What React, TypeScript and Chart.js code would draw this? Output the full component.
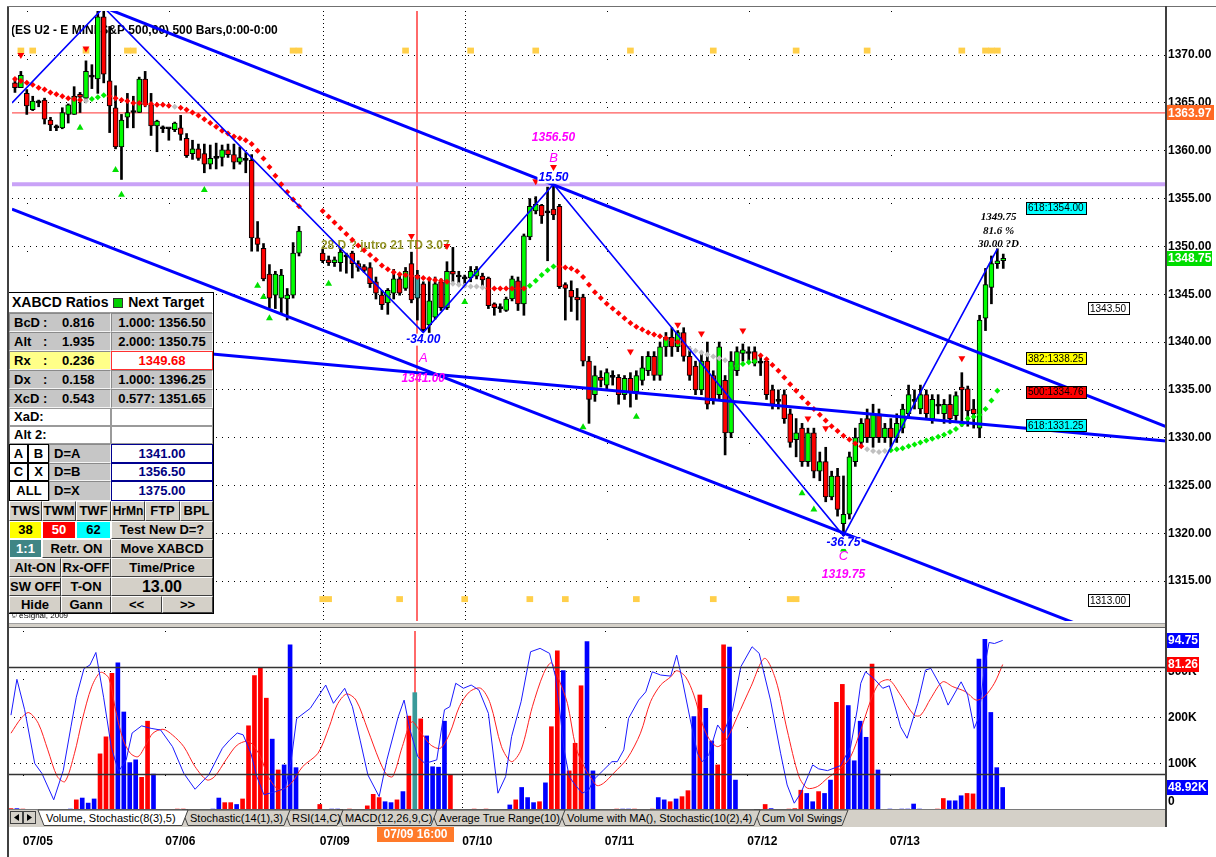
import React, { useEffect, useRef } from 'react';
import { Chart, registerables } from 'chart.js';

Chart.register(...registerables);

const FONT = "'Liberation Sans', Arial, Helvetica, sans-serif";
const SERIF = "'Liberation Serif', 'Times New Roman', serif";

// ---------------- axes ----------------
const X_MIN = -0.5;
const X_MAX = 194.5;
const PRICE_MIN = 1310.836;
const PRICE_MAX = 1374.613;
const priceTicks = [1315, 1320, 1325, 1330, 1335, 1340, 1345, 1350, 1355, 1360, 1365, 1370];
const dateTickIdx = [2, 26, 52, 76, 100, 124, 148];
const dateTickLabels = ['07/05', '07/06', '07/09', '07/10', '07/11', '07/12', '07/13'];
const denseDateLines = [52, 76];
const CURSOR_INDEX = 68;
const CURSOR_LABEL = '07/09 16:00';
const VOL_MAX = 389;
const volTicks = [100, 200, 300];
const TITLE = '(ES U2 - E MINI S&P 500,60) 500 Bars,0:00-0:00';

// ---------------- hourly OHLC (bar index 0..167) ----------------
const opens = [
  1367.1, 1366.6, 1366.0, 1364.3, 1365.0, 1365.3, 1363.2, 1362.4, 1362.4, 1363.8,
  1363.8, 1365.9, 1365.5, 1367.9, 1367.5, 1374.0, 1367.3, 1364.5, 1360.4, 1363.5,
  1364.0, 1364.0, 1367.5, 1364.8, 1362.6, 1362.5, 1362.3, 1362.2, 1362.4, 1361.3,
  1359.7, 1360.2, 1359.7, 1358.6, 1359.2, 1359.3, 1360.1, 1359.6, 1358.8, 1359.0,
  1359.0, 1350.9, 1349.8, 1347.1, 1344.9, 1344.6, 1344.5, 1344.9, 1349.3, null,
  null, null, 1349.3, 1348.6, 1348.3, 1348.3, 1348.9, 1349.3, 1348.2, 1347.9,
  1347.8, 1346.3, 1344.9, 1344.1, 1345.1, 1346.6, 1345.6, 1348.2, 1347.0, 1346.1,
  1341.8, 1342.6, 1346.3, 1343.6, 1347.4, 1347.0, 1346.8, 1346.7, 1346.9, 1346.9,
  1346.7, 1344.0, 1343.6, 1343.3, 1344.5, 1346.4, 1344.0, 1351.0, 1353.7, 1354.3,
  1353.5, 1353.9, 1354.2, 1346.0, 1345.4, 1344.7, 1344.7, 1338.0, 1334.5, 1336.3,
  1335.5, 1336.5, 1336.3, 1334.5, 1336.2, 1334.8, 1336.0, 1337.0, 1338.5, 1336.5,
  1339.5, 1340.5, 1339.5, 1341.0, 1338.5, 1337.5, 1335.0, 1338.0, 1336.5, 1334.5,
  1336.0, 1330.5, 1337.0, 1338.8, 1339.0, 1339.0, 1337.8, 1338.0, 1335.0, 1334.0,
  1334.5, 1332.5, 1329.8, 1331.0, 1327.5, 1330.5, 1326.5, 1327.5, 1323.8, 1326.0,
  1321.0, 1322.0, 1327.5, 1329.5, 1332.0, 1330.0, 1332.5, 1330.0, 1331.0, 1330.0,
  1331.0, 1332.5, 1334.0, 1333.0, 1334.5, 1332.0, 1333.5, 1332.5, 1333.5, 1332.3,
  1335.3, 1335.1, 1333.0, 1331.0, 1342.5, 1345.7, 1348.2, 1348.5,
];
const highs = [
  1367.6, 1368.3, 1366.4, 1365.7, 1365.3, 1365.5, 1363.5, 1362.7, 1364.5, 1364.9,
  1366.7, 1366.1, 1369.4, 1369.0, 1374.6, 1374.6, 1373.0, 1366.8, 1363.8, 1366.0,
  1365.7, 1367.7, 1368.3, 1366.0, 1363.2, 1362.6, 1362.4, 1363.0, 1363.7, 1361.8,
  1361.1, 1360.7, 1360.7, 1360.6, 1360.8, 1360.6, 1360.7, 1360.7, 1360.4, 1359.8,
  1359.6, 1352.6, 1350.3, 1348.1, 1347.4, 1347.6, 1345.6, 1350.4, 1352.1, null,
  null, null, 1349.7, 1349.0, 1348.9, 1349.7, 1349.3, 1349.5, 1348.5, 1348.1,
  1348.3, 1346.8, 1345.4, 1345.6, 1347.6, 1347.1, 1347.8, 1349.4, 1347.5, 1346.3,
  1346.7, 1346.8, 1346.6, 1348.4, 1349.9, 1347.4, 1347.0, 1347.9, 1347.9, 1347.2,
  1346.8, 1344.1, 1344.0, 1344.7, 1346.9, 1346.8, 1351.3, 1355.0, 1355.2, 1354.4,
  1356.2, 1356.5, 1354.4, 1346.2, 1346.4, 1345.6, 1345.0, 1338.5, 1337.5, 1337.0,
  1337.2, 1337.0, 1336.6, 1336.5, 1336.8, 1337.0, 1338.5, 1339.0, 1339.0, 1340.0,
  1341.0, 1341.5, 1341.2, 1341.5, 1339.5, 1338.0, 1338.8, 1340.0, 1337.0, 1340.0,
  1336.5, 1339.0, 1339.5, 1339.8, 1339.5, 1339.5, 1338.5, 1338.3, 1335.5, 1335.0,
  1335.0, 1333.0, 1332.0, 1331.5, 1331.0, 1331.0, 1328.5, 1329.0, 1326.5, 1326.8,
  1326.0, 1328.5, 1331.0, 1332.0, 1333.0, 1333.5, 1333.0, 1331.5, 1332.0, 1332.5,
  1333.5, 1335.5, 1335.0, 1335.5, 1335.0, 1334.5, 1334.5, 1334.0, 1334.5, 1334.8,
  1336.8, 1335.4, 1334.0, 1342.8, 1347.7, 1349.0, 1349.75, 1349.2,
];
const lows = [
  1366.1, 1366.6, 1363.8, 1364.2, 1364.6, 1362.8, 1362.1, 1362.1, 1362.3, 1362.9,
  1363.8, 1364.0, 1365.2, 1366.5, 1366.0, 1367.1, 1361.9, 1360.2, 1357.0, 1362.4,
  1362.4, 1364.0, 1364.6, 1361.6, 1359.9, 1361.9, 1361.1, 1362.0, 1361.1, 1359.3,
  1359.1, 1359.0, 1357.7, 1358.1, 1358.1, 1358.4, 1359.3, 1358.1, 1358.6, 1357.7,
  1349.5, 1349.5, 1346.4, 1343.6, 1343.5, 1343.0, 1342.3, 1344.6, 1349.0, null,
  null, null, 1348.3, 1348.0, 1347.9, 1347.4, 1347.2, 1346.7, 1347.4, 1347.3,
  1345.7, 1344.5, 1343.4, 1342.9, 1344.5, 1344.9, 1345.4, 1344.1, 1342.3, 1341.1,
  1341.0, 1342.4, 1343.3, 1343.4, 1346.3, 1346.1, 1345.7, 1346.3, 1346.6, 1345.7,
  1343.5, 1342.8, 1343.1, 1343.2, 1344.3, 1343.3, 1342.8, 1350.7, 1353.4, 1352.4,
  1348.5, 1352.8, 1345.6, 1342.3, 1343.2, 1342.3, 1337.5, 1331.5, 1333.8, 1335.3,
  1335.0, 1335.5, 1333.5, 1334.0, 1333.2, 1334.0, 1335.5, 1336.5, 1336.0, 1336.0,
  1338.5, 1338.5, 1339.0, 1338.0, 1336.0, 1334.5, 1334.5, 1333.0, 1333.5, 1334.0,
  1328.2, 1330.0, 1336.5, 1338.0, 1338.0, 1337.5, 1336.5, 1334.0, 1333.0, 1333.0,
  1331.5, 1329.0, 1328.0, 1327.0, 1327.0, 1325.8, 1325.5, 1323.3, 1323.5, 1321.8,
  1319.75, 1321.5, 1327.0, 1329.0, 1329.5, 1329.0, 1329.5, 1329.5, 1329.0, 1329.5,
  1330.5, 1332.0, 1333.0, 1332.5, 1332.0, 1331.5, 1332.5, 1331.5, 1331.5, 1331.8,
  1331.2, 1331.2, 1331.0, 1330.0, 1341.2, 1344.0, 1347.7, 1347.7,
];
const closes = [
  1366.6, 1367.9, 1364.7, 1365.2, 1365.0, 1363.3, 1362.7, 1362.4, 1364.0, 1364.8,
  1365.7, 1365.6, 1368.3, 1367.7, 1374.0, 1368.0, 1364.7, 1360.4, 1363.2, 1364.0,
  1364.2, 1367.5, 1364.8, 1362.6, 1363.1, 1362.3, 1362.3, 1362.9, 1361.7, 1359.5,
  1360.2, 1359.2, 1358.6, 1359.2, 1359.3, 1360.1, 1359.6, 1358.8, 1359.3, 1359.0,
  1350.9, 1350.2, 1346.6, 1344.6, 1347.1, 1347.0, 1344.9, 1349.3, 1351.6, null,
  null, null, 1348.5, 1348.3, 1348.6, 1349.4, 1349.0, 1348.2, 1347.8, 1347.5,
  1346.1, 1345.1, 1343.9, 1345.4, 1346.6, 1345.1, 1347.4, 1344.4, 1344.6, 1341.3,
  1344.3, 1346.1, 1343.6, 1347.4, 1347.1, 1346.8, 1346.6, 1347.4, 1347.6, 1346.5,
  1343.8, 1343.6, 1343.5, 1344.5, 1346.6, 1344.0, 1351.1, 1354.2, 1354.4, 1353.2,
  1353.7, 1353.3, 1345.8, 1345.6, 1344.7, 1344.4, 1338.0, 1334.0, 1336.5, 1336.0,
  1336.8, 1336.3, 1334.5, 1336.2, 1334.8, 1336.5, 1337.3, 1338.5, 1336.5, 1339.5,
  1340.5, 1339.5, 1341.0, 1338.5, 1336.5, 1335.0, 1338.0, 1333.5, 1334.0, 1339.5,
  1330.5, 1338.0, 1339.0, 1339.2, 1338.8, 1337.8, 1337.8, 1334.5, 1333.5, 1333.8,
  1332.0, 1329.5, 1330.5, 1327.5, 1330.5, 1326.5, 1327.5, 1323.8, 1326.0, 1322.5,
  1322.0, 1328.0, 1330.0, 1331.5, 1330.0, 1332.5, 1330.0, 1331.0, 1330.0, 1331.5,
  1333.0, 1334.5, 1333.8, 1334.5, 1332.5, 1334.0, 1333.3, 1333.5, 1332.0, 1334.4,
  1335.0, 1332.8, 1332.5, 1342.3, 1346.0, 1348.2, 1348.5, 1348.75,
];

// ---------------- trailing stop diamonds ----------------
const stopValues = [
  1367.5, 1367.3, 1367.1, 1366.9, 1366.6, 1366.4, 1366.1, 1365.9, 1365.7, 1365.5,
  1365.4, 1365.3, 1365.2, 1365.4, 1365.6, 1365.8, 1365.7, 1365.5, 1365.3, 1365.2,
  1365.0, 1365.0, 1364.9, 1364.9, 1364.8, 1364.8, 1364.7, 1364.6, 1364.5, 1364.3,
  1364.0, 1363.7, 1363.3, 1362.9, 1362.5, 1362.1, 1361.8, 1361.5, 1361.3, 1361.1,
  1360.7, 1360.0, 1359.2, 1358.3, 1357.4, 1356.5, 1355.7, 1354.9, 1354.2, null,
  null, null, 1353.7, 1353.1, 1352.5, 1351.9, 1351.3, 1350.7, 1350.1, 1349.6,
  1349.1, 1348.6, 1348.0, 1347.6, 1347.3, 1347.1, 1347.0, 1346.9, 1346.8, 1346.7,
  1346.6, 1346.5, 1346.4, 1346.3, 1346.1, 1346.0, 1345.9, 1345.8, 1345.8, 1345.7,
  1345.6, 1345.6, 1345.6, 1345.6, 1345.6, 1345.6, 1345.6, 1345.9, 1346.4, 1347.0,
  1347.5, 1347.9, 1347.9, 1347.8, 1347.7, 1347.4, 1346.8, 1346.0, 1345.2, 1344.6,
  1344.0, 1343.5, 1343.0, 1342.5, 1342.0, 1341.6, 1341.3, 1341.0, 1340.8, 1340.6,
  1340.4, 1340.2, 1340.0, 1339.8, 1339.3, 1339.1, 1338.9, 1338.7, 1338.5, 1338.3,
  1338.1, 1337.3, 1337.5, 1337.7, 1337.9, 1338.0, 1338.6, 1338.2, 1337.6, 1337.0,
  1336.3, 1335.6, 1334.9, 1334.2, 1333.6, 1333.0, 1332.4, 1331.8, 1331.2, 1330.7,
  1330.2, 1329.8, 1329.4, 1329.1, 1328.8, 1328.6, 1328.5, 1328.6, 1328.7, 1328.8,
  1328.9, 1329.1, 1329.3, 1329.5, 1329.7, 1329.9, 1330.1, 1330.3, 1330.6, 1330.9,
  1331.4, 1332.0, 1332.2, 1332.4, 1333.0, 1333.9, 1334.9, null,
];
const stopTypes =
  'rrrrrrrrrr' + 'rrngggrrrr' + 'rrrrrrrnrr' + 'rrrrrrrrrr' + 'rrrrrrrrr-' +
  '--rrrrrrrr' + 'rrrrrrrrrr' + 'rrrrnnnnnn' + 'rrrrrrrggg' + 'ggrrrrrrrr' +
  'rrrrrrrrrr' + 'rrrrnnnnnn' + 'ngggggrrrr' + 'rrrrrrrrrr' + 'rrrrnnnngg' +
  'gggggggggg' + 'ggggggg-';

// ---------------- signal triangles ----------------
const upTriIdx = [11, 17, 18, 32, 41, 42, 43, 53, 76, 96, 105, 133, 135, 140];
const upTriPrice = [1362.4, 1358.0, 1355.4, 1355.9, 1345.9, 1344.7, 1342.5, 1346.1, 1344.2, 1331.1, 1332.2, 1324.2, 1322.5, 1318.3];
const downTriIdx = [1, 12, 67, 73, 88, 91, 104, 112, 116, 123, 134, 137, 160];
const downTriPrice = [1370.0, 1370.7, 1351.1, 1350.05, 1356.8, 1358.3, 1339.0, 1341.8, 1340.9, 1341.2, 1332.0, 1331.0, 1338.3];

// ---------------- session markers ----------------
const topMarkerIdx = [1, 3, 12, 19, 20, 47, 48, 66, 77, 88, 104, 118, 132, 144, 160, 164, 165, 166];
const bottomMarkerIdx = [52, 53, 65, 76, 87, 93, 105, 118, 131, 132];
const TOP_MARKER_RANGE = [1370.2, 1370.75];
const BOTTOM_MARKER_RANGE = [1312.85, 1313.4];

// ---------------- XABCD pattern and channels ----------------
const zigzag = [[-0.5, 1365.0], [15, 1375.0], [69, 1341.0], [91, 1356.5], [140, 1319.75], [166, 1349.75]];
const channelUpper = [[15, 1375.0], [194.5, 1331.15]];
const channelLower = [[-0.5, 1353.9], [194.5, 1306.9]];
const channelMid = [[-0.5, 1340.66], [194.5, 1329.65]];
const LEVEL_RED = 1363.97;
const LEVEL_B = 1356.5;

const pivotLabels = [
  { idx: 91, price: 1361.4, text: '1356.50', kind: 'price' },
  { idx: 91, price: 1359.2, text: 'B', kind: 'letter' },
  { idx: 91, price: 1357.2, text: '15.50', kind: 'diff' },
  { idx: 69, price: 1340.25, text: '-34.00', kind: 'diff' },
  { idx: 69, price: 1338.3, text: 'A', kind: 'letter' },
  { idx: 69, price: 1336.2, text: '1341.00', kind: 'price' },
  { idx: 140, price: 1319.0, text: '-36.75', kind: 'diff' },
  { idx: 140, price: 1317.6, text: 'C', kind: 'letter' },
  { idx: 140, price: 1315.7, text: '1319.75', kind: 'price' },
];
const dLabelIdx = 166.2;
const dLabelTexts = ['1349.75', '81.6 %', '30.00 ?D'];
const dLabelPrices = [1353.05, 1351.6, 1350.25];
const studyText = '28 D ? jutro 21 TD 3.07';
const studyTextAt = [51.7, 1350.1];

const fibRatios = ['618', '382', '500', '618'];
const fibLevels = [1354.0, 1338.25, 1334.76, 1331.25];
const fibColors = ['#00ffff', '#ffff00', '#ff0000', '#00ffff'];
const FIB_BOX_IDX = 170.8;
const sideLevels = [1343.5, 1313.0];
const SIDE_BOX_IDX = 181.4;

// ---------------- lower pane: volume (K) + stochastic ----------------
const volumes = [
  3, 3, 2, 0, 0, 0, 1, 0, 0, 1,
  2, 22, 26, 15, 24, 122, 159, 297, 320, 213,
  103, 109, 71, 193, 78, 0, 0, 0, 2, 2,
  0, 0, 0, 0, 2, 26, 16, 16, 12, 24,
  183, 292, 309, 243, 154, 87, 98, 359, 92, 0,
  0, 0, 12, 0, 2, 2, 0, 2, 0, 0,
  9, 34, 27, 18, 16, 22, 40, 204, 255, 198,
  161, 94, 93, 193, 77, 0, 0, 0, 2, 0,
  2, 0, 0, 0, 11, 22, 49, 27, 16, 18,
  59, 181, 346, 303, 85, 145, 270, 366, 85, 0,
  0, 0, 2, 2, 2, 2, 0, 0, 2, 27,
  22, 18, 24, 29, 42, 203, 250, 221, 150, 98,
  359, 354, 65, 0, 0, 0, 0, 12, 3, 0,
  0, 2, 3, 43, 36, 18, 40, 36, 65, 234,
  273, 227, 107, 193, 158, 317, 87, 0, 2, 0,
  2, 2, 13, 2, 0, 0, 2, 25, 20, 20,
  31, 36, 35, 328, 371, 212, 92, 48.92,
];
const volumeColors =
  'rbr---r--b' + 'brbbbrrrbb' + 'bbrrb---rr' + '----bbrrbr' + 'rrrrbrbbb-' +
  '--r-bb-r--' + 'rrrbbrbrtr' + 'bbbbr---r-' + 'r---brbbbr' + 'brrbrrrbb-' +
  '--rbbr--rb' + 'brbrrbrbbr' + 'rbb----rb-' + '-rrrbbrbbr' + 'rbbbbrb-b-' +
  'bbbb--rrbb' + 'brrbbbbb';

const stochK = [
  [0, 53], [1, 73], [2.3, 56], [4, 26], [5.2, 20.5], [7.2, 5.7], [8.8, 22], [10.1, 46.5], [11, 63], [12.3, 79],
  [13.3, 81], [14.3, 88], [15.6, 63], [16.9, 35], [18.1, 21.5], [19.4, 28], [20.4, 43], [22, 47], [23.6, 45.6], [25.2, 44.7],
  [27.2, 35.4], [29.1, 20.5], [31, 11.6], [33.3, 19.6], [35.6, 34.5], [36.8, 39], [38.1, 43], [39.1, 42], [40.4, 31.7], [41.4, 18.7],
  [42.6, 8.5], [44.6, 10.3], [46.2, 12.2], [47.2, 28], [48.1, 51], [50.4, 56.8], [53, 69.8], [54.3, 59.6], [56.2, 68], [57.5, 57.7],
  [58.8, 39], [60.1, 19.6], [62, 7.5], [63.3, 28], [65.2, 52], [66.2, 61.4], [67.2, 44.7], [68.5, 29.8], [69.7, 26], [71.7, 28],
  [73, 56], [73.9, 57.7], [74.9, 70.8], [76.2, 68], [77.5, 69.8], [78.8, 67], [80.4, 54], [82, 9.4], [83.3, 18.7], [84.3, 41],
  [85.9, 60.5], [87.5, 88.4], [89.1, 90.3], [90.7, 87.5], [91.7, 74.4], [92.6, 50.3], [93.1, 34.5], [94, 18.7], [95, 14], [96.2, 9.4],
  [97.3, 11.2], [98.1, 16.8], [99.8, 22.4], [101.2, 27], [102.1, 27], [103.2, 33.6], [104, 51.2], [105.7, 61.4], [106.9, 66], [108, 77.2],
  [109.4, 75.4], [111.1, 74.8], [112.1, 86.5], [113, 73.5], [114.4, 50.3], [115.6, 31.7], [116.4, 27], [117.5, 30.8], [119, 47.5], [120, 42.9],
  [121.5, 55.9], [122.9, 80], [124.8, 91.2], [126, 87.5], [127.9, 61.4], [129.6, 31.7], [130.7, 14], [131.9, 3.8], [133, 9.4], [135, 25.2],
  [136, 23], [137.5, 22], [139.7, 24.8], [141.4, 35.4], [142.5, 55.9], [143.1, 70.8], [143.9, 77.2], [145.3, 73.5], [146.8, 68], [147.9, 69.4],
  [149.8, 46.5], [150.9, 40.1], [152.7, 59.6], [154, 78.2], [154.9, 79.1], [156.6, 68.9], [157.8, 58.6], [160, 71.6], [161.1, 64.2], [162.2, 45.6],
  [163, 52.1], [163.9, 79.1], [164.7, 93.6], [165.6, 93], [167, 94.75],
];
const stochD = [
  [0, 42.9], [1.7, 51.2], [3, 54.4], [4.6, 48.4], [6.2, 33.6], [7.8, 18.7], [9.1, 15.9], [10.7, 31.7], [12, 50.3], [13.6, 68.9],
  [15.1, 76.9], [16.5, 73.5], [17.5, 57.7], [18.8, 40.1], [20.1, 31.7], [21.4, 29.8], [22.7, 36.3], [23.9, 42.9], [25.6, 45.1], [27.2, 41.9],
  [29.1, 35.4], [31, 24.2], [33, 16.8], [34.3, 18.7], [36.2, 28], [38.1, 36.3], [40.1, 38.2], [42, 29.8], [43.3, 18.7], [45.2, 11.2],
  [47.2, 15], [49.1, 24.2], [51.7, 31.7], [53.6, 46.5], [54.9, 58.6], [56.5, 64.8], [58.1, 61.4], [60.1, 44.7], [62, 28], [63.3, 19.6],
  [64.3, 18.7], [65.9, 35.4], [67.5, 49.3], [69.1, 42.9], [70.7, 36.3], [72.3, 34.5], [73.9, 42.9], [75.5, 57.7], [77.2, 66], [79.1, 68],
  [80.7, 59.6], [82.6, 35.4], [84.3, 27], [85.9, 33.6], [87.8, 57.7], [89.7, 76.3], [91, 82.2], [92.3, 72.6], [93.7, 59.6], [95.1, 35.4],
  [96.5, 24.2], [97.9, 16.8], [98.7, 13.6], [99.8, 15], [101.5, 20.6], [103.8, 28.9], [106, 42.9], [107.7, 60.5], [109.4, 69.8], [111.1, 74.4],
  [112.1, 77.8], [113.6, 74.4], [115, 64.2], [116.4, 48.4], [117.5, 40.1], [119, 35.4], [120.6, 40.1], [122.3, 52.1], [124.6, 68.9], [126.9, 84.7],
  [128.8, 72.6], [130.7, 44.7], [132.7, 18.7], [134.1, 12.2], [135.8, 13.1], [137.5, 17.8], [139.7, 23.3], [141.4, 29.8], [143.1, 44.7], [144.8, 61.4],
  [146.2, 70.8], [147.9, 72.6], [149.8, 64.2], [152.1, 53], [153.2, 53], [154.9, 62.4], [156.9, 71.6], [158.6, 68.9], [160.8, 66], [162.5, 61.4],
  [163.9, 63.3], [165.6, 70.8], [167, 81.26],
];
const STOCH_HI = 80;
const STOCH_LO = 20;

// ---------------- helpers ----------------
const COLORS: any = { r: '#ff0000', g: '#00ee00', n: '#c0c0c0', b: '#0000ff', t: '#3a9a9a' };

function pts(list: number[][]) {
  return list.map((p) => ({ x: p[0], y: p[1] }));
}

function boxText(ctx: any, text: string, x: number, yc: number, w: number, h: number, bg: string, fg: string, font: string, border?: string, align?: string) {
  ctx.save();
  ctx.fillStyle = bg;
  ctx.fillRect(x, Math.round(yc - h / 2), w, h);
  if (border) {
    ctx.strokeStyle = border;
    ctx.lineWidth = 1;
    ctx.strokeRect(x + 0.5, Math.round(yc - h / 2) + 0.5, w - 1, h - 1);
  }
  ctx.fillStyle = fg;
  ctx.font = font;
  ctx.textBaseline = 'middle';
  if (align === 'center') {
    ctx.textAlign = 'center';
    ctx.fillText(text, x + w / 2, yc + 0.5);
  } else {
    ctx.textAlign = 'left';
    ctx.fillText(text, x + 2, yc + 0.5);
  }
  ctx.restore();
}

function vLines(chart: any) {
  const { ctx, chartArea: a } = chart;
  const x = chart.scales.x;
  ctx.save();
  ctx.strokeStyle = '#000';
  ctx.lineWidth = 1;
  dateTickIdx.forEach((v) => {
    const px = Math.round(x.getPixelForValue(v)) + 0.5;
    ctx.setLineDash(denseDateLines.includes(v) ? [1, 3] : [1, 47]);
    ctx.beginPath();
    ctx.moveTo(px, a.top);
    ctx.lineTo(px, a.bottom);
    ctx.stroke();
  });
  ctx.setLineDash([]);
  const cx = Math.round(x.getPixelForValue(CURSOR_INDEX));
  ctx.fillStyle = '#ff6a6a';
  ctx.fillRect(cx - 1, a.top, 2, a.bottom - a.top);
  ctx.restore();
}

const priceDeco = {
  id: 'priceDeco',
  beforeDatasetsDraw(chart: any) {
    const { ctx, chartArea: a } = chart;
    const x = chart.scales.x;
    const y = chart.scales.y;
    vLines(chart);
    ctx.save();
    ctx.beginPath();
    ctx.rect(a.left, a.top, a.right - a.left, a.bottom - a.top);
    ctx.clip();
    ctx.strokeStyle = '#ff5a5a';
    ctx.lineWidth = 1.2;
    let yy = y.getPixelForValue(LEVEL_RED);
    ctx.beginPath(); ctx.moveTo(a.left, yy); ctx.lineTo(a.right, yy); ctx.stroke();
    ctx.strokeStyle = '#c9a2f7';
    ctx.lineWidth = 4;
    yy = y.getPixelForValue(LEVEL_B);
    ctx.beginPath(); ctx.moveTo(a.left, yy); ctx.lineTo(a.right, yy); ctx.stroke();
    ctx.fillStyle = '#000';
    ctx.font = `bold 12px ${FONT}`;
    ctx.textBaseline = 'middle';
    ctx.textAlign = 'left';
    ctx.fillText(TITLE, 3, 24);
    ctx.fillStyle = 'rgba(128,128,0,0.85)';
    ctx.fillText(studyText, x.getPixelForValue(studyTextAt[0]), y.getPixelForValue(studyTextAt[1]));
    ctx.restore();
  },
  afterDatasetsDraw(chart: any) {
    const { ctx, chartArea: a } = chart;
    const x = chart.scales.x;
    const y = chart.scales.y;
    ctx.save();
    ctx.beginPath();
    ctx.rect(a.left, a.top, a.right - a.left, a.bottom - a.top);
    ctx.clip();
    ctx.textAlign = 'center';
    ctx.textBaseline = 'middle';
    pivotLabels.forEach((l) => {
      const px = x.getPixelForValue(l.idx);
      const py = y.getPixelForValue(l.price);
      if (l.kind === 'price') {
        ctx.font = `italic bold 12px ${FONT}`;
        ctx.fillStyle = '#ff00ff';
      } else if (l.kind === 'letter') {
        ctx.font = `italic 13px ${FONT}`;
        ctx.fillStyle = '#ff00ff';
      } else {
        ctx.font = `italic bold 12px ${FONT}`;
        const w = ctx.measureText(l.text).width;
        ctx.fillStyle = '#fff';
        ctx.fillRect(px - w / 2 - 1, py - 6, w + 2, 12);
        ctx.fillStyle = '#0000ff';
      }
      ctx.fillText(l.text, px, py);
    });
    ctx.font = `italic bold 11px ${SERIF}`;
    ctx.fillStyle = '#000';
    dLabelTexts.forEach((t, i) => {
      ctx.fillText(t, x.getPixelForValue(dLabelIdx), y.getPixelForValue(dLabelPrices[i]));
    });
    const f10 = `10px ${FONT}`;
    fibLevels.forEach((lv, i) => {
      boxText(ctx, `${fibRatios[i]}:${lv.toFixed(2)}`, Math.round(x.getPixelForValue(FIB_BOX_IDX)), y.getPixelForValue(lv), 61, 13, fibColors[i], '#000', f10, '#000');
    });
    sideLevels.forEach((lv) => {
      boxText(ctx, lv.toFixed(2), Math.round(x.getPixelForValue(SIDE_BOX_IDX)), y.getPixelForValue(lv), 42, 13, '#fff', '#000', f10, '#000');
    });
    ctx.font = `8px ${FONT}`;
    ctx.fillStyle = '#000';
    ctx.textAlign = 'left';
    ctx.fillText('\u00a9 eSignal, 2009', 3, a.bottom - 5);
    ctx.restore();
  },
  afterDraw(chart: any) {
    const { ctx, chartArea: a } = chart;
    const y = chart.scales.y;
    const f = `bold 12px ${FONT}`;
    boxText(ctx, LEVEL_RED.toFixed(2), a.right, y.getPixelForValue(LEVEL_RED), 48, 15, '#ff6a24', '#fff', f);
    const last = closes[closes.length - 1] as number;
    boxText(ctx, last.toFixed(2), a.right, y.getPixelForValue(last), 46, 15, '#00dd00', '#fff', f);
  },
};

const lowerDeco = {
  id: 'lowerDeco',
  beforeDatasetsDraw(chart: any) {
    vLines(chart);
  },
  afterDatasetsDraw(chart: any) {
    const { ctx, chartArea: a } = chart;
    const s = chart.scales.yS;
    ctx.save();
    ctx.strokeStyle = '#333';
    ctx.lineWidth = 1.5;
    [STOCH_HI, STOCH_LO].forEach((v) => {
      const yy = Math.round(s.getPixelForValue(v)) + 0.5;
      ctx.beginPath(); ctx.moveTo(a.left, yy); ctx.lineTo(a.right, yy); ctx.stroke();
    });
    ctx.restore();
  },
  afterDraw(chart: any) {
    const { ctx, chartArea: a } = chart;
    const s = chart.scales.yS;
    const v = chart.scales.yVol;
    const x = chart.scales.x;
    const f = `bold 12px ${FONT}`;
    const lastK = stochK[stochK.length - 1][1];
    const lastD = stochD[stochD.length - 1][1];
    const lastV = volumes[volumes.length - 1];
    boxText(ctx, lastK.toFixed(2), a.right, s.getPixelForValue(lastK), 33, 15, '#0000ff', '#fff', f);
    boxText(ctx, lastD.toFixed(2), a.right, s.getPixelForValue(lastD), 33, 15, '#ff0000', '#fff', f);
    boxText(ctx, `${lastV.toFixed(2)}K`, a.right, v.getPixelForValue(lastV), 42, 15, '#0000ff', '#fff', f);
    ctx.save();
    ctx.font = f;
    ctx.fillStyle = '#000';
    ctx.textBaseline = 'middle';
    ctx.textAlign = 'left';
    ctx.fillText('0', a.right + 2, a.bottom - 8);
    ctx.restore();
    const cx = x.getPixelForValue(CURSOR_INDEX);
    boxText(ctx, CURSOR_LABEL, Math.round(cx - 38), 206, 77, 16, '#ff7a2a', '#fff', f, undefined, 'center');
  },
};

function buildPriceConfig(): any {
  const wick: any[] = [];
  const body: any[] = [];
  const bodyColors: string[] = [];
  for (let i = 0; i < opens.length; i++) {
    const o = opens[i];
    const c = closes[i];
    if (o == null || c == null) continue;
    wick.push({ x: i, y: [lows[i], highs[i]] });
    body.push({ x: i, y: [o, c] });
    bodyColors.push(i === CURSOR_INDEX ? COLORS.t : Math.abs(c - o) < 0.25 ? '#000000' : c > o ? '#00ff00' : '#ff0000');
  }
  const stopPts: any[] = [];
  const stopCols: string[] = [];
  stopValues.forEach((v, i) => {
    if (v == null) return;
    stopPts.push({ x: i, y: v });
    stopCols.push(COLORS[stopTypes[i]]);
  });
  const markers = [
    ...topMarkerIdx.map((i) => ({ x: i, y: TOP_MARKER_RANGE })),
    ...bottomMarkerIdx.map((i) => ({ x: i, y: BOTTOM_MARKER_RANGE })),
  ];
  const line = (data: any, width: number) => ({
    type: 'line', data, borderColor: '#0000ff', borderWidth: width, pointRadius: 0, fill: false, tension: 0, order: 0,
  });
  return {
    type: 'bar',
    data: {
      datasets: [
        { type: 'bar', data: markers, backgroundColor: '#ffcf4a', barThickness: 6, grouped: false, order: 6 },
        { type: 'bar', data: wick, backgroundColor: '#000', barThickness: 2, grouped: false, order: 5 },
        { type: 'bar', data: body, backgroundColor: bodyColors, borderColor: '#000', borderWidth: 1, borderSkipped: false, barThickness: 5, minBarLength: 2, grouped: false, order: 4 },
        { type: 'scatter', data: stopPts, pointStyle: 'rectRot', pointRadius: 3, pointBackgroundColor: stopCols, pointBorderWidth: 0, order: 3 },
        line(pts(channelUpper), 3),
        line(pts(channelLower), 3),
        line(pts(channelMid), 3),
        line(pts(zigzag), 1.6),
        { type: 'scatter', data: upTriIdx.map((v, i) => ({ x: v, y: upTriPrice[i] })), pointStyle: 'triangle', pointRadius: 4, pointBackgroundColor: '#00e000', pointBorderWidth: 0, order: 0 },
        { type: 'scatter', data: downTriIdx.map((v, i) => ({ x: v, y: downTriPrice[i] })), pointStyle: 'triangle', rotation: 180, pointRadius: 4, pointBackgroundColor: '#ff0000', pointBorderWidth: 0, order: 0 },
      ],
    },
    options: {
      animation: false,
      responsive: false,
      maintainAspectRatio: false,
      events: [],
      layout: { padding: 0 },
      plugins: { legend: { display: false }, tooltip: { enabled: false } },
      scales: {
        x: { type: 'linear', min: X_MIN, max: X_MAX, offset: false, display: false, grid: { offset: false } },
        y: {
          type: 'linear',
          position: 'right',
          min: PRICE_MIN,
          max: PRICE_MAX,
          afterBuildTicks: (s: any) => { s.ticks = priceTicks.map((v) => ({ value: v })); },
          afterFit: (s: any) => { s.width = 50; s.paddingTop = 0; s.paddingBottom = 0; },
          ticks: { color: '#000', font: { family: FONT, size: 12, weight: 'bold' }, padding: 2, autoSkip: false, callback: (v: any) => Number(v).toFixed(2) },
          grid: { color: '#000', drawTicks: false, lineWidth: 1 },
          border: { display: false, dash: [1, 5] },
        },
      },
    },
    plugins: [priceDeco],
  };
}

function buildLowerConfig(): any {
  const vol: any[] = [];
  const volCols: string[] = [];
  volumes.forEach((v, i) => {
    if (!v) return;
    vol.push({ x: i, y: v });
    volCols.push(COLORS[volumeColors[i]] || '#0000ff');
  });
  return {
    type: 'bar',
    data: {
      datasets: [
        { type: 'bar', data: vol, yAxisID: 'yVol', backgroundColor: volCols, barThickness: 4, grouped: false, order: 3 },
        { type: 'line', data: pts(stochD), yAxisID: 'yS', borderColor: '#ff2020', borderWidth: 1, pointRadius: 0, tension: 0.3, order: 1 },
        { type: 'line', data: pts(stochK), yAxisID: 'yS', borderColor: '#1a1aff', borderWidth: 1, pointRadius: 0, tension: 0, order: 0 },
      ],
    },
    options: {
      animation: false,
      responsive: false,
      maintainAspectRatio: false,
      events: [],
      layout: { padding: { top: 3, left: 0, right: 0, bottom: 0 } },
      plugins: { legend: { display: false }, tooltip: { enabled: false } },
      scales: {
        x: {
          type: 'linear', min: X_MIN, max: X_MAX, offset: false,
          afterBuildTicks: (s: any) => { s.ticks = dateTickIdx.map((v) => ({ value: v })); },
          afterFit: (s: any) => { s.height = 47; s.paddingLeft = 0; s.paddingRight = 0; },
          ticks: {
            align: 'start', autoSkip: false, maxRotation: 0, minRotation: 0, padding: 16, color: '#000',
            font: { family: FONT, size: 12, weight: 'bold' },
            callback: (_v: any, i: number) => dateTickLabels[i] || '',
          },
          grid: { display: false },
          border: { display: false },
        },
        yVol: {
          type: 'linear', position: 'right', min: 0, max: VOL_MAX,
          afterBuildTicks: (s: any) => { s.ticks = volTicks.map((v) => ({ value: v })); },
          afterFit: (s: any) => { s.width = 50; s.paddingTop = 0; s.paddingBottom = 0; },
          ticks: { color: '#000', font: { family: FONT, size: 12, weight: 'bold' }, padding: 2, autoSkip: false, callback: (v: any) => `${v}K` },
          grid: { color: '#000', drawTicks: false },
          border: { display: false, dash: [1, 5] },
        },
        yS: { type: 'linear', position: 'right', min: 0, max: 100, display: false },
      },
    },
    plugins: [lowerDeco],
  };
}

// ---------------- XABCD panel (HTML) ----------------
const btn = { background: '#d4d0c8', borderStyle: 'solid', borderWidth: 1, borderColor: '#ffffff #404040 #404040 #ffffff' };
const grayCell = { background: '#c6c6c6', borderStyle: 'solid', borderWidth: 1, borderColor: '#8a8a8a #f4f4f4 #f4f4f4 #8a8a8a' };
const whiteCell = { background: '#ffffff', borderStyle: 'solid', borderWidth: 1, borderColor: '#9a9a9a' };

function Cell(props: any) {
  const { x, y, w, h, s, children, align, size, color, pl } = props;
  return (
    <div
      style={{
        position: 'absolute', left: x, top: y, width: w, height: h, boxSizing: 'border-box',
        font: `bold ${size || 13}px ${FONT}`, color: color || '#000', lineHeight: `${h - 2}px`,
        textAlign: align || 'center', paddingLeft: pl || 0, whiteSpace: 'nowrap', overflow: 'hidden',
        ...s,
      }}
    >
      {children}
    </div>
  );
}

const ratioRows = [
  ['BcD', '0.816', '1.000: 1356.50'],
  ['Alt', '1.935', '2.000: 1350.75'],
  ['Rx', '0.236', '1349.68'],
  ['Dx', '0.158', '1.000: 1396.25'],
  ['XcD', '0.543', '0.577: 1351.65'],
];
const rowTops = [313, 332, 351, 370, 389];
const targetRows = [['D=A', '1341.00'], ['D=B', '1356.50'], ['D=X', '1375.00']];

function XabcdPanel() {
  return (
    <div>
      <div style={{ position: 'absolute', left: 8, top: 292, width: 206, height: 322, background: '#fff', border: '1px solid #000', boxSizing: 'border-box' }} />
      <Cell x={9} y={293} w={203} h={20} s={{ background: '#fff', borderBottom: '1px solid #999' }} align="left" pl={3} size={14}>
        XABCD Ratios <span style={{ display: 'inline-block', width: 8, height: 8, background: '#00d000', border: '1px solid #333', verticalAlign: 'middle', margin: '0 1px' }} /> Next Target
      </Cell>
      {ratioRows.map((r, i) => (
        <React.Fragment key={r[0]}>
          <Cell x={9} y={rowTops[i]} w={102} h={19} s={{ ...grayCell, ...(r[0] === 'Rx' ? { background: '#ffff88' } : {}) }} align="left" pl={0}>
            <span style={{ position: 'absolute', left: 4 }}>{r[0]}</span>
            <span style={{ position: 'absolute', left: 33 }}>:</span>
            <span style={{ position: 'absolute', left: 52 }}>{r[1]}</span>
          </Cell>
          {r[0] === 'Rx' ? (
            <Cell x={111} y={rowTops[i]} w={102} h={19} s={{ background: '#fff', border: '1px solid #ff3030' }} color="#ff0000">{r[2]}</Cell>
          ) : (
            <Cell x={111} y={rowTops[i]} w={102} h={19} s={grayCell}>{r[2]}</Cell>
          )}
        </React.Fragment>
      ))}
      <Cell x={9} y={408} w={102} h={18} s={whiteCell} align="left" pl={4}>XaD:</Cell>
      <Cell x={111} y={408} w={102} h={18} s={whiteCell} />
      <Cell x={9} y={426} w={102} h={18} s={whiteCell} align="left" pl={4}>Alt 2:</Cell>
      <Cell x={111} y={426} w={102} h={18} s={whiteCell} />
      <Cell x={9} y={444} w={19} h={19} s={{ background: '#fff', border: '1px solid #000' }}>A</Cell>
      <Cell x={28} y={444} w={21} h={19} s={{ background: '#fff', border: '1px solid #000' }}>B</Cell>
      <Cell x={9} y={463} w={19} h={18} s={{ background: '#fff', border: '1px solid #000' }}>C</Cell>
      <Cell x={28} y={463} w={21} h={18} s={{ background: '#fff', border: '1px solid #000' }}>X</Cell>
      <Cell x={9} y={481} w={40} h={20} s={{ background: '#fff', border: '1px solid #000' }}>ALL</Cell>
      {targetRows.map((t, i) => (
        <React.Fragment key={t[0]}>
          <Cell x={49} y={[444, 463, 481][i]} w={62} h={[19, 18, 20][i]} s={grayCell} align="left" pl={4}>{t[0]}</Cell>
          <Cell x={111} y={[444, 463, 481][i]} w={102} h={[19, 18, 20][i]} s={{ background: '#fff', border: '1px solid #000090' }} color="#000080">{t[1]}</Cell>
        </React.Fragment>
      ))}
      {[['TWS', 9, 33], ['TWM', 42, 34], ['TWF', 76, 35], ['HrMn', 111, 34], ['FTP', 145, 35], ['BPL', 180, 33]].map((b: any) => (
        <Cell key={b[0]} x={b[1]} y={501} w={b[2]} h={20} s={btn} size={b[0] === 'HrMn' ? 12 : 13}>{b[0]}</Cell>
      ))}
      <Cell x={9} y={521} w={33} h={18} s={{ background: '#ffff00', border: '1px solid #fff' }}>38</Cell>
      <Cell x={42} y={521} w={34} h={18} s={{ background: '#ff0000', border: '1px solid #fff' }} color="#fff">50</Cell>
      <Cell x={76} y={521} w={35} h={18} s={{ background: '#00ffff', border: '1px solid #fff' }}>62</Cell>
      <Cell x={111} y={521} w={102} h={18} s={btn}>Test New D=?</Cell>
      <Cell x={9} y={539} w={33} h={19} s={{ background: '#3f8585', border: '1px solid #fff' }} color="#fff">1:1</Cell>
      <Cell x={42} y={539} w={69} h={19} s={btn}>Retr. ON</Cell>
      <Cell x={111} y={539} w={102} h={19} s={btn}>Move XABCD</Cell>
      <Cell x={9} y={558} w={52} h={19} s={btn}>Alt-ON</Cell>
      <Cell x={61} y={558} w={50} h={19} s={btn}>Rx-OFF</Cell>
      <Cell x={111} y={558} w={102} h={19} s={btn}>Time/Price</Cell>
      <Cell x={9} y={577} w={52} h={19} s={btn}>SW OFF</Cell>
      <Cell x={61} y={577} w={50} h={19} s={btn}>T-ON</Cell>
      <Cell x={111} y={577} w={102} h={19} s={btn} size={16}>13.00</Cell>
      <Cell x={9} y={596} w={52} h={17} s={btn}>Hide</Cell>
      <Cell x={61} y={596} w={50} h={17} s={btn}>Gann</Cell>
      <Cell x={111} y={596} w={51} h={17} s={btn}>&lt;&lt;</Cell>
      <Cell x={162} y={596} w={51} h={17} s={btn}>&gt;&gt;</Cell>
    </div>
  );
}

const tabNames = ['Volume, Stochastic(8(3),5)', 'Stochastic(14(1),3)', 'RSI(14,C)', 'MACD(12,26,9,C)', 'Average True Range(10)', 'Volume with MA(), Stochastic(10(2),4)', 'Cum Vol Swings'];
const tabEdges = [[30, 180], [174, 282], [276, 335], [329, 429], [423, 557], [551, 752], [746, 840]];

function TabBar() {
  const order = [6, 5, 4, 3, 2, 1, 0];
  return (
    <svg style={{ position: 'absolute', left: 8, top: 809 }} width={1158} height={18}>
      <rect x={0} y={0} width={1158} height={18} fill="#d4d0c8" />
      <line x1={0} y1={0.5} x2={1158} y2={0.5} stroke="#7a7a7a" />
      <rect x={2.5} y={2.5} width={12} height={12} fill="#d4d0c8" stroke="#404040" />
      <polygon points="11,5 11,12 6,8.5" fill="#000" />
      <rect x={15.5} y={2.5} width={12} height={12} fill="#d4d0c8" stroke="#404040" />
      <polygon points="19,5 19,12 24,8.5" fill="#000" />
      {order.map((i) => {
        const [x0, x1] = tabEdges[i];
        return (
          <g key={i}>
            <polygon points={`${x0},1 ${x0 + 6},16.5 ${x1 - 6},16.5 ${x1},1`} fill={i === 0 ? '#ffffff' : '#d4d0c8'} stroke="#404040" strokeWidth={1} />
            <text x={x0 + 8} y={13} fontSize={11} fontFamily={FONT} fill="#000">{tabNames[i]}</text>
          </g>
        );
      })}
    </svg>
  );
}

export default function App() {
  const priceRef = useRef<HTMLCanvasElement>(null);
  const lowerRef = useRef<HTMLCanvasElement>(null);
  useEffect(() => {
    const pc = new Chart(priceRef.current as any, buildPriceConfig());
    const lc = new Chart(lowerRef.current as any, buildLowerConfig());
    return () => {
      pc.destroy();
      lc.destroy();
    };
  }, []);
  return (
    <div style={{ position: 'absolute', left: 0, top: 0, width: 1216, height: 857, background: '#fff', overflow: 'hidden' }}>
      <canvas ref={priceRef} width={1208} height={618} style={{ position: 'absolute', left: 8, top: 7, width: 1208, height: 618 }} />
      <canvas ref={lowerRef} width={1208} height={229} style={{ position: 'absolute', left: 8, top: 628, width: 1208, height: 229 }} />
      <div style={{ position: 'absolute', left: 8, top: 623, width: 1158, height: 3, background: '#d4d0c8', borderTop: '1px solid #a0a0a0', borderBottom: '1px solid #606060' }} />
      <XabcdPanel />
      <TabBar />
      <div style={{ position: 'absolute', left: 7, top: 6, width: 2, height: 851, background: '#404040' }} />
      <div style={{ position: 'absolute', left: 7, top: 6, width: 1209, height: 1, background: '#707070' }} />
      <div style={{ position: 'absolute', left: 1165, top: 6, width: 2, height: 821, background: '#404040' }} />
    </div>
  );
}
